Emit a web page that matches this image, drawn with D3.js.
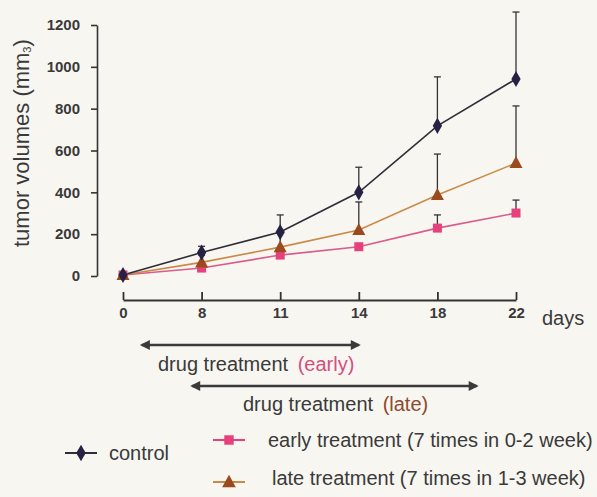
<!DOCTYPE html>
<html>
<head>
<meta charset="utf-8">
<script src="https://cdn.jsdelivr.net/npm/d3@7/dist/d3.min.js"></script>
<style>
  html, body { margin: 0; padding: 0; background: #f8f6f1; }
  svg { display: block; }
  text { font-family: "Liberation Sans", Arial, sans-serif; }
</style>
</head>
<body>
<svg id="chart" width="597" height="497"></svg>
<script>
// ---- data ----
const days = ["0", "8", "11", "14", "18", "22"];
const yTicks = [0, 200, 400, 600, 800, 1000, 1200];
const controlValues = [5, 112, 210, 400, 718, 942];
const controlErr    = [0, 30, 82, 120, 234, 320];
const earlyValues   = [5, 38, 100, 140, 229, 301];
const earlyErr      = [0, 0, 0, 0, 63, 62];
const lateValues    = [5, 65, 138, 220, 387, 540];
const lateErr       = [0, 35, 70, 134, 196, 273];
const seriesNames = ["control", "early treatment (7 times in 0-2 week)", "late treatment (7 times in 1-3 week)"];
// treatment periods, in tick-index units along the day axis
const treatmentLabels = ["early", "late"];
const treatmentStart = [0.24, 0.88];
const treatmentEnd   = [3.0, 4.5];

// ---- setup ----
const svg = d3.select("#chart");
const W = 597, H = 497;
svg.append("rect").attr("width", W).attr("height", H).attr("fill", "#f8f6f1");

const x = d3.scalePoint().domain(days).range([123, 516]).padding(0);
const y = d3.scaleLinear().domain([0, 1200]).range([276, 25]);
const xi = d3.scaleLinear().domain([0, days.length - 1]).range([123, 516]);

const textCol = "#3a3a3a";
const series = [
  { name: seriesNames[1], values: earlyValues, err: earlyErr, line: "#d95c8c", fill: "#e6417c", shape: "square" },
  { name: seriesNames[2], values: lateValues, err: lateErr, line: "#c98a48", fill: "#9b4a1e", shape: "triangle" },
  { name: seriesNames[0], values: controlValues, err: controlErr, line: "#2e2e38", fill: "#262244", shape: "diamond" }
];

// ---- y axis ----
const yAxis = d3.axisLeft(y).tickValues(yTicks).tickFormat(d3.format("d"))
  .tickSizeInner(6).tickSizeOuter(0).tickPadding(11);
const gy = svg.append("g").attr("transform", "translate(97,0)").call(yAxis);
gy.select(".domain").attr("stroke", "#333").attr("stroke-width", 1.6);
gy.selectAll(".tick line").attr("stroke", "#333").attr("stroke-width", 1.6);
gy.selectAll(".tick text").attr("fill", textCol).attr("font-size", 15).attr("font-weight", "bold")
  .attr("font-family", "Liberation Sans, Arial, sans-serif");

// y label
const yl = svg.append("text")
  .attr("transform", "translate(29,247) rotate(-90)")
  .attr("text-anchor", "start")
  .attr("font-size", 22).attr("fill", textCol);
yl.append("tspan").text("tumor volumes (mm");
yl.append("tspan").attr("font-size", 11).attr("dy", 2).text("3");
yl.append("tspan").attr("dy", -2).text(")");

// ---- x axis ----
const xAxis = d3.axisBottom(x).tickSizeInner(-8).tickSizeOuter(0).tickPadding(7);
const gx = svg.append("g").attr("transform", "translate(0,300)").call(xAxis);
gx.select(".domain").attr("stroke", "#333").attr("stroke-width", 1.8);
gx.selectAll(".tick line").attr("stroke", "#333").attr("stroke-width", 1.8);
gx.selectAll(".tick text").attr("fill", textCol).attr("font-size", 15).attr("font-weight", "bold")
  .attr("font-family", "Liberation Sans, Arial, sans-serif");
svg.append("text").attr("x", 542).attr("y", 325).attr("font-size", 20).attr("fill", textCol).text("days");

// ---- error bars ----
series.forEach(s => {
  const g = svg.append("g");
  days.forEach((d, i) => {
    if (!s.err[i]) return;
    const cx = x(d), y0 = y(s.values[i]), y1 = y(s.values[i] + s.err[i]);
    g.append("line").attr("x1", cx).attr("x2", cx).attr("y1", y0).attr("y2", y1)
      .attr("stroke", "#333").attr("stroke-width", 1.3);
    g.append("line").attr("x1", cx - 3.5).attr("x2", cx + 3.5).attr("y1", y1).attr("y2", y1)
      .attr("stroke", "#333").attr("stroke-width", 1.3);
  });
});

// ---- lines ----
const lineGen = d3.line().x((v, i) => x(days[i])).y(v => y(v));
series.forEach(s => {
  svg.append("path").datum(s.values).attr("d", lineGen)
    .attr("fill", "none").attr("stroke", s.line).attr("stroke-width", 1.6);
});

// ---- markers ----
function marker(g, shape, cx, cy, fill, scale) {
  const k = scale || 1;
  if (shape === "diamond") {
    g.append("path").attr("d", d3.symbol(d3.symbolDiamond, 75 * k)())
      .attr("transform", `translate(${cx},${cy})`).attr("fill", fill);
  } else if (shape === "square") {
    g.append("rect").attr("x", cx - 4.5 * k).attr("y", cy - 4.5 * k)
      .attr("width", 9 * k).attr("height", 9 * k).attr("fill", fill);
  } else {
    g.append("path").attr("d", `M${cx},${cy - 7 * k}L${cx + 6.5 * k},${cy + 5 * k}L${cx - 6.5 * k},${cy + 5 * k}Z`)
      .attr("fill", fill);
  }
}
series.forEach(s => {
  const g = svg.append("g");
  s.values.forEach((v, i) => marker(g, s.shape, x(days[i]), y(v), s.fill));
});

// ---- treatment arrows ----
const defs = svg.append("defs");
defs.append("marker").attr("id", "ah").attr("viewBox", "0 0 10 10")
  .attr("refX", 8).attr("refY", 5).attr("markerWidth", 12).attr("markerHeight", 10)
  .attr("markerUnits", "userSpaceOnUse").attr("orient", "auto-start-reverse")
  .append("path").attr("d", "M0,0L10,5L0,10Z").attr("fill", "#3a3a3a");

const arrowY = [345, 386];
const labelX = [158, 243];
const labelY = [371, 411];
const labelCol = ["#d2507e", "#8e4a2c"];
treatmentLabels.forEach((lab, i) => {
  svg.append("line")
    .attr("x1", xi(treatmentStart[i])).attr("x2", xi(treatmentEnd[i]))
    .attr("y1", arrowY[i]).attr("y2", arrowY[i])
    .attr("stroke", "#3a3a3a").attr("stroke-width", 2.4)
    .attr("marker-start", "url(#ah)").attr("marker-end", "url(#ah)");
  const t = svg.append("text").attr("x", labelX[i]).attr("y", labelY[i]).attr("font-size", 20).attr("fill", textCol);
  t.append("tspan").text("drug treatment ");
  t.append("tspan").attr("dx", 4).attr("fill", labelCol[i]).text("(" + lab + ")");
});

// ---- legend ----
const legend = [
  { s: series[2], lx: 65, ly: 453, tx: 109, ty: 460 },
  { s: series[0], lx: 213, ly: 440, tx: 268, ty: 447 },
  { s: series[1], lx: 213, ly: 482, tx: 272, ty: 485 }
];
legend.forEach(L => {
  const g = svg.append("g");
  g.append("line").attr("x1", L.lx).attr("x2", L.lx + 32).attr("y1", L.ly).attr("y2", L.ly)
    .attr("stroke", L.s.shape === "diamond" ? "#2e2e38" : L.s.shape === "square" ? "#e6417c" : "#c98a48")
    .attr("stroke-width", 2);
  marker(g, L.s.shape, L.lx + 16, L.ly, L.s.fill, 1.05);
  g.append("text").attr("x", L.tx).attr("y", L.ty).attr("font-size", 20).attr("fill", textCol).text(L.s.name);
});
</script>
</body>
</html>
